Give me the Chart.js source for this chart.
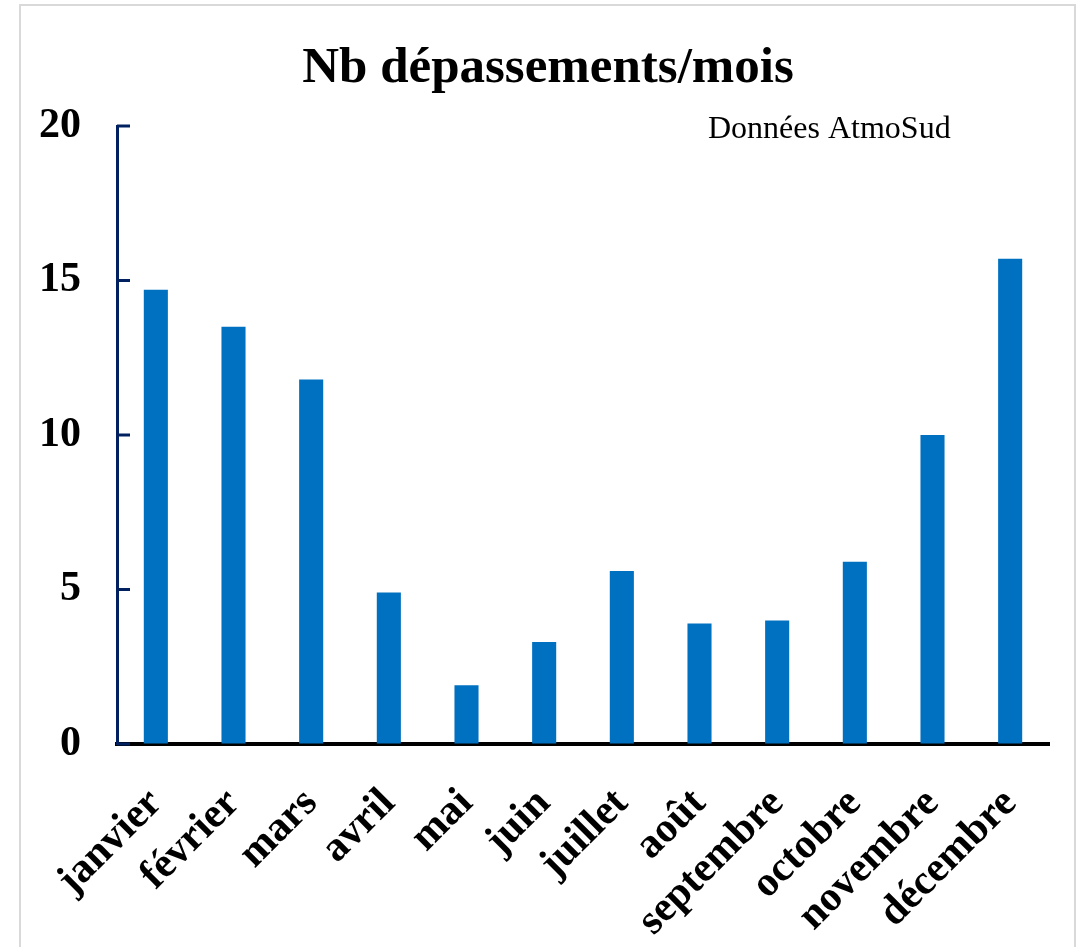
<!DOCTYPE html>
<html>
<head>
<meta charset="utf-8">
<script src="https://cdn.jsdelivr.net/npm/chart.js@4"></script>
<style>
  html, body { margin: 0; padding: 0; background: #fff; }
  #wrap { position: relative; width: 1081px; height: 947px; }
  #frame { position: absolute; left: 19px; top: 4px; width: 1057px; height: 960px; border: 2px solid #d9d9d9; box-sizing: border-box; }
  canvas { position: absolute; left: 0; top: 0; }
</style>
</head>
<body>
<div id="wrap">
  <div id="frame"></div>
  <canvas id="myChart" width="1081" height="947"></canvas>
</div>
<script>
const months = ['janvier', 'février', 'mars', 'avril', 'mai', 'juin', 'juillet', 'août', 'septembre', 'octobre', 'novembre', 'décembre'];
const depassements = [14.7, 13.5, 11.8, 4.9, 1.9, 3.3, 5.6, 3.9, 4.0, 5.9, 10.0, 15.7];
const yTicks = [0, 5, 10, 15, 20];

const titre = 'Nb dépassements/mois';
const source = 'Données AtmoSud';

const serif = "'Liberation Serif', 'Times New Roman', serif";
const navy = '#002060';

// titre (un peu décalé à droite comme l'original), traits de graduation vers l'intérieur, source
const extras = {
    id: 'extras',
    afterDraw(chart) {
        const { ctx, chartArea, scales } = chart;
        ctx.save();
        ctx.strokeStyle = navy;
        ctx.lineWidth = 3;
        yTicks.forEach(v => {
            const y = scales.y.getPixelForValue(v);
            ctx.beginPath();
            ctx.moveTo(chartArea.left, y);
            ctx.lineTo(chartArea.left + 13, y);
            ctx.stroke();
        });
        ctx.fillStyle = '#000';
        ctx.textBaseline = 'alphabetic';
        ctx.font = "bold 51px " + serif;
        ctx.textAlign = 'center';
        ctx.fillText(titre, 548, 82);
        ctx.font = "32px " + serif;
        ctx.textAlign = 'left';
        ctx.fillText(source, 708, 138);
        ctx.restore();
    }
};

const ctx = document.getElementById('myChart').getContext('2d');
const myChart = new Chart(ctx, {
    type: 'bar',
    data: {
        labels: months,
        datasets: [{
            data: depassements,
            backgroundColor: '#0070C0',
            barPercentage: 0.31,
            categoryPercentage: 1.0
        }]
    },
    options: {
        responsive: false,
        animation: false,
        layout: { padding: { left: 20, right: 32, top: 126, bottom: 0 } },
        plugins: {
            legend: { display: false },
            tooltip: { enabled: false },
            title: { display: false }
        },
        scales: {
            x: {
                grid: { display: false },
                border: { display: true, color: '#000', width: 4 },
                ticks: {
                    color: '#000',
                    font: { family: serif, size: 42, weight: 'bold' },
                    maxRotation: 45,
                    minRotation: 45,
                    autoSkip: false,
                    padding: 27
                },
                afterFit(scale) { scale.height = 203; }
            },
            y: {
                min: 0,
                max: 20,
                afterBuildTicks(scale) { scale.ticks = yTicks.map(v => ({ value: v })); },
                grid: { drawOnChartArea: false, drawTicks: false },
                border: { display: true, color: navy, width: 3 },
                ticks: {
                    color: '#000',
                    font: { family: serif, size: 42, weight: 'bold' },
                    padding: 36
                },
                afterFit(scale) { scale.width = 97; }
            }
        }
    },
    plugins: [extras]
});
</script>
</body>
</html>
